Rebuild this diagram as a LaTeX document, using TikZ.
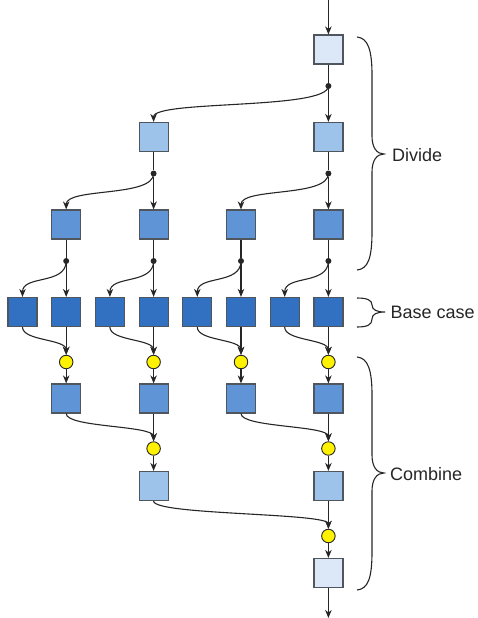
\documentclass[tikz,border=0pt]{standalone}
\usepackage{fontspec}
\setmainfont{Liberation Sans}
\usetikzlibrary{arrows.meta}

\definecolor{ink}{HTML}{262626}
\definecolor{frame}{HTML}{50565E}
\definecolor{lvA}{HTML}{DCE8F7}
\definecolor{lvB}{HTML}{9DC3EA}
\definecolor{lvC}{HTML}{5F95D6}
\definecolor{lvD}{HTML}{3270C1}
\definecolor{mergefill}{HTML}{FFF200}

\tikzset{
  box/.style={draw=frame, line width=1.2pt, minimum size=29pt, inner sep=0pt},
  boxA/.style={box, fill=lvA},
  boxB/.style={box, fill=lvB},
  boxC/.style={box, fill=lvC},
  boxD/.style={box, fill=lvD},
  split/.style={circle, fill=ink, inner sep=0pt, minimum size=6pt},
  merge/.style={circle, draw=ink, line width=0.9pt, fill=mergefill, inner sep=0pt, minimum size=13.5pt},
  link/.style={draw=ink, line width=1.1pt},
  arr/.style={link, -{Stealth[length=8pt,width=6.5pt,inset=2.5pt]}},
  bracepath/.style={draw=ink, line width=1.1pt},
  lbl/.style={text=ink, font=\fontsize{18}{21}\selectfont, anchor=west, inner sep=0pt}
}

\begin{document}
\begin{tikzpicture}[x=1pt, y=-1pt]
\useasboundingbox (0,0) rectangle (478,618);

% column positions
\def\xa{22.5}\def\xb{66.2}\def\xc{109.9}\def\xd{153.6}
\def\xe{197.3}\def\xf{241}\def\xg{284.7}\def\xh{328.4}

% ---- divide phase ----
\node[boxA] (t0) at (\xh,49.5) {};
\node[boxB] (a1) at (\xd,137) {};
\node[boxB] (a2) at (\xh,137) {};
\node[boxC] (b1) at (\xb,224.5) {};
\node[boxC] (b2) at (\xd,224.5) {};
\node[boxC] (b3) at (\xf,224.5) {};
\node[boxC] (b4) at (\xh,224.5) {};

% ---- base cases ----
\node[boxD] (c1) at (\xa,312) {};
\node[boxD] (c2) at (\xb,312) {};
\node[boxD] (c3) at (\xc,312) {};
\node[boxD] (c4) at (\xd,312) {};
\node[boxD] (c5) at (\xe,312) {};
\node[boxD] (c6) at (\xf,312) {};
\node[boxD] (c7) at (\xg,312) {};
\node[boxD] (c8) at (\xh,312) {};

% ---- combine phase ----
\node[merge] (m1) at (\xb,362) {};
\node[merge] (m2) at (\xd,362) {};
\node[merge] (m3) at (\xf,362) {};
\node[merge] (m4) at (\xh,362) {};
\node[boxC] (e1) at (\xb,398.5) {};
\node[boxC] (e2) at (\xd,398.5) {};
\node[boxC] (e3) at (\xf,398.5) {};
\node[boxC] (e4) at (\xh,398.5) {};
\node[merge] (n1) at (\xd,448.5) {};
\node[merge] (n2) at (\xh,448.5) {};
\node[boxB] (f1) at (\xd,486) {};
\node[boxB] (f2) at (\xh,486) {};
\node[merge] (o1) at (\xh,536) {};
\node[boxA] (g0) at (\xh,573) {};

% split points
\node[split] (p0) at (\xh,86) {};
\node[split] (q1) at (\xd,173.5) {};
\node[split] (q2) at (\xh,173.5) {};
\node[split] (r1) at (\xb,261) {};
\node[split] (r2) at (\xd,261) {};
\node[split] (r3) at (\xf,261) {};
\node[split] (r4) at (\xh,261) {};

% input and output
\coordinate (src) at (\xh,0);
\coordinate (dst) at (\xh,618);
\draw[arr] (src) -- (t0);
\draw[arr] (g0) -- (dst);

% divide connectors
\foreach \up/\pt/\lc/\rc in {t0/p0/a1/a2, a1/q1/b1/b2, a2/q2/b3/b4,
                              b1/r1/c1/c2, b2/r2/c3/c4, b3/r3/c5/c6, b4/r4/c7/c8} {
  \draw[link] (\up) -- (\pt);
  \draw[arr] (\pt) -- (\rc);
  \draw[arr] (\pt.center) .. controls +(0,24) and +(0,-22) .. (\lc.north);
}

% combine connectors
\foreach \lc/\rc/\mg/\res in {c1/c2/m1/e1, c3/c4/m2/e2, c5/c6/m3/e3, c7/c8/m4/e4,
                              e1/e2/n1/f1, e3/e4/n2/f2, f1/f2/o1/g0} {
  \draw[arr] (\rc) -- (\mg);
  \draw[arr] (\lc.south) .. controls +(0,14) and +(0,-16) .. (\mg.north);
  \draw[arr] (\mg) -- (\res);
}

% braces
\draw[bracepath] (357,37) .. controls (368,38) and (372,50) .. (372,75)
  -- (372,136) .. controls (372,148) and (377,154) .. (384,154)
  .. controls (377,154) and (372,160) .. (372,172)
  -- (372,232) .. controls (372,258) and (368,269) .. (357,270);
\draw[bracepath] (357,298) .. controls (367,298) and (372,300) .. (372,305)
  .. controls (372,310) and (377,312) .. (385,312)
  .. controls (377,312) and (372,314) .. (372,319)
  .. controls (372,325) and (367,327) .. (357,327);
\draw[bracepath] (357,357) .. controls (368,358) and (372,370) .. (372,395)
  -- (372,455) .. controls (372,467) and (377,473) .. (384,473)
  .. controls (377,473) and (372,479) .. (372,491)
  -- (372,552) .. controls (372,578) and (368,589) .. (357,590);

% phase labels
\node[lbl] (ldiv) at (392,155) {Divide};
\node[lbl] (lbase) at (390.5,312) {Base case};
\node[lbl] (lcomb) at (390,474) {Combine};

\end{tikzpicture}
\end{document}
